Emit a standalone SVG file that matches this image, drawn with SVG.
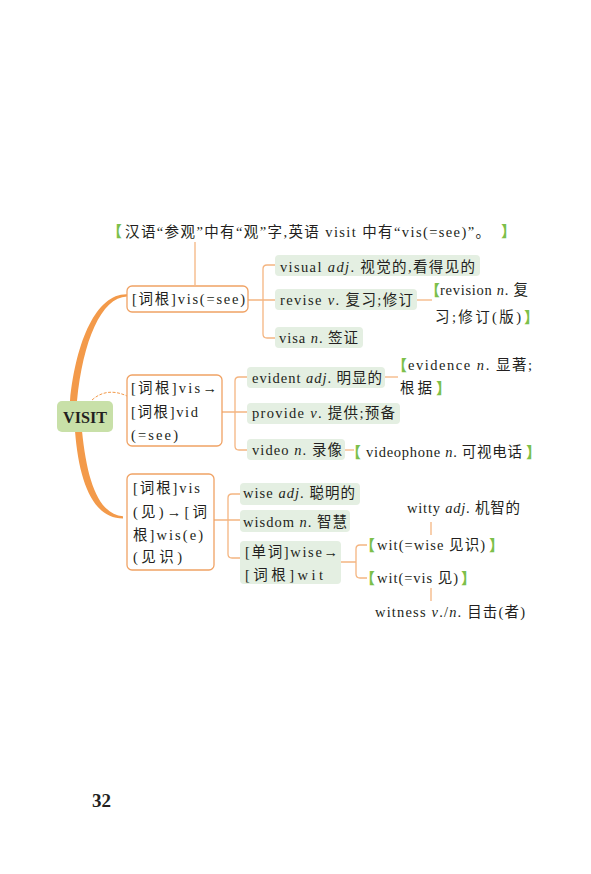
<svg xmlns="http://www.w3.org/2000/svg" width="591" height="874" viewBox="0 0 591 874">
<style>
.t{font-family:"Liberation Serif","Noto Sans CJK SC",serif;font-size:14.5px;fill:#231f20}
.i{font-style:italic}
.g{font-family:"Noto Sans CJK SC",sans-serif;font-size:15px;font-weight:900;fill:#7cbf4a}
.box{fill:#fff;stroke:#f0a264;stroke-width:1.3}
.gb{fill:#e4efe2}
.ln{fill:none;stroke:#f4b581;stroke-width:1.3}
</style>
<rect width="591" height="874" fill="#fff"/>
<g id="connectors">
<path class="ln" d="M195,242 V285"/>
<path class="ln" d="M248,300 H275 M275,265 H267 Q263,265 263,269 V334 Q263,338 267,338 H275"/>
<path class="ln" d="M417,300 H432"/>
<path class="ln" d="M222,412 H247 M247,377 H239 Q235,377 235,381 V446 Q235,450 239,450 H247"/>
<path class="ln" d="M385,377 H398"/>
<path class="ln" d="M345,450 H354"/>
<path class="ln" d="M214,520 H240 M240,494 H232 Q228,494 228,498 V554 Q228,558 232,558 H240"/>
<path class="ln" d="M341,562 H356 M367,545 H360 Q356,545 356,549 V574 Q356,578 360,578 H367"/>
<path class="ln" d="M431,522 V535"/>
<path class="ln" d="M431,588 V601"/>
<path d="M70,401 C76,340 97,293.5 127,294.3 L127,296.5 C101,297.5 83,341 77,401 Z" fill="#f39a4a"/>
<path d="M92,400 C102,391 114,390 127,396" fill="none" stroke="#f39a4a" stroke-width="1" stroke-dasharray="3,1.5"/>
<path d="M75,431 C79,482 93,518.5 123,518.5 L123,516.3 C98,514 87,480 82,431 Z" fill="#f39a4a"/>
</g>
<g id="note">
<text class="g" x="107" y="237">【</text>
<text class="t" x="125" y="237" textLength="365" lengthAdjust="spacing">汉语“参观”中有“观”字,英语 visit 中有“vis(=see)”。</text>
<text class="g" x="501" y="237">】</text>
</g>
<g id="visit">
<rect x="57" y="401" width="56" height="31" rx="5" fill="#c8e0a8"/>
<text x="63" y="423" textLength="44" lengthAdjust="spacingAndGlyphs" style="font-family:'Liberation Serif',serif;font-weight:bold;font-size:17px;fill:#231f20">VISIT</text>
</g>
<g id="root1">
<rect class="box" x="127" y="286" width="121" height="26" rx="5"/>
<text class="t" x="132" y="304" textLength="113" lengthAdjust="spacing">[词根]vis(=see)</text>
</g>
<g id="visual">
<rect class="gb" x="275" y="255" width="205" height="21" rx="4"/>
<text class="t" x="280" y="272" textLength="195" lengthAdjust="spacing">visual <tspan class="i">adj</tspan>. 视觉的,看得见的</text>
</g>
<g id="revise">
<rect class="gb" x="275" y="289" width="142" height="21" rx="4"/>
<text class="t" x="280" y="305" textLength="133" lengthAdjust="spacing">revise <tspan class="i">v</tspan>. 复习;修订</text>
</g>
<g id="revision">
<text class="g" x="425" y="296">【</text>
<text class="t" x="440" y="295" textLength="88" lengthAdjust="spacing">revision <tspan class="i">n</tspan>. 复</text>
<text class="t" x="435" y="322" textLength="86" lengthAdjust="spacing">习;修订(版)</text>
<text class="g" x="524" y="323">】</text>
</g>
<g id="visa">
<rect class="gb" x="275" y="327" width="88" height="21" rx="4"/>
<text class="t" x="279" y="343" textLength="79" lengthAdjust="spacing">visa <tspan class="i">n</tspan>. 签证</text>
</g>
<g id="root2">
<rect class="box" x="127" y="375" width="95" height="71" rx="5"/>
<text class="t" x="131" y="393" textLength="86" lengthAdjust="spacing">[词根]vis→</text>
<text class="t" x="131" y="417" textLength="67" lengthAdjust="spacing">[词根]vid</text>
<text class="t" x="131" y="440" textLength="47" lengthAdjust="spacing">(=see)</text>
</g>
<g id="evident">
<rect class="gb" x="247" y="367" width="138" height="21" rx="4"/>
<text class="t" x="252" y="383" textLength="130" lengthAdjust="spacing">evident <tspan class="i">adj</tspan>. 明显的</text>
</g>
<g id="evidence">
<text class="g" x="392" y="371">【</text>
<text class="t" x="408" y="370" textLength="124" lengthAdjust="spacing">evidence <tspan class="i">n</tspan>. 显著;</text>
<text class="t" x="400" y="393" textLength="32" lengthAdjust="spacing">根据</text>
<text class="g" x="436" y="394">】</text>
</g>
<g id="provide">
<rect class="gb" x="247" y="403" width="153" height="21" rx="4"/>
<text class="t" x="252" y="418" textLength="143" lengthAdjust="spacing">provide <tspan class="i">v</tspan>. 提供;预备</text>
</g>
<g id="video">
<rect class="gb" x="247" y="439" width="98" height="21" rx="4"/>
<text class="t" x="252" y="455" textLength="90" lengthAdjust="spacing">video <tspan class="i">n</tspan>. 录像</text>
</g>
<g id="videophone">
<text class="g" x="346" y="458">【</text>
<text class="t" x="366" y="457" textLength="156" lengthAdjust="spacing">videophone <tspan class="i">n</tspan>. 可视电话</text>
<text class="g" x="526" y="458">】</text>
</g>
<g id="root3">
<rect class="box" x="127" y="474" width="87" height="96" rx="5"/>
<text class="t" x="133" y="493" textLength="67" lengthAdjust="spacing">[词根]vis</text>
<text class="t" x="133" y="517" textLength="74" lengthAdjust="spacing">(见)→[词</text>
<text class="t" x="133" y="540" textLength="70" lengthAdjust="spacing">根]wis(e)</text>
<text class="t" x="133" y="562" textLength="49" lengthAdjust="spacing">(见识)</text>
</g>
<g id="wise">
<rect class="gb" x="240" y="483" width="120" height="22" rx="4"/>
<text class="t" x="243" y="498" textLength="112" lengthAdjust="spacing">wise <tspan class="i">adj</tspan>. 聪明的</text>
</g>
<g id="wisdom">
<rect class="gb" x="240" y="510" width="110" height="22" rx="4"/>
<text class="t" x="243" y="527" textLength="104" lengthAdjust="spacing">wisdom <tspan class="i">n</tspan>. 智慧</text>
</g>
<g id="wisewit">
<rect class="gb" x="240" y="541" width="101" height="43" rx="4"/>
<text class="t" x="245" y="557" textLength="93" lengthAdjust="spacing">[单词]wise→</text>
<text class="t" x="245" y="580" textLength="78" lengthAdjust="spacing">[词根]wit</text>
</g>
<g id="witty">
<text class="t" x="407" y="513" textLength="113" lengthAdjust="spacing">witty <tspan class="i">adj</tspan>. 机智的</text>
</g>
<g id="wit1">
<text class="g" x="360" y="551">【</text>
<text class="t" x="377" y="550" textLength="108" lengthAdjust="spacing">wit(=wise 见识)</text>
<text class="g" x="489" y="551">】</text>
</g>
<g id="wit2">
<text class="g" x="360" y="584">【</text>
<text class="t" x="377" y="583" textLength="81" lengthAdjust="spacing">wit(=vis 见)</text>
<text class="g" x="461" y="584">】</text>
</g>
<g id="witness">
<text class="t" x="375" y="617" textLength="150" lengthAdjust="spacing">witness <tspan class="i">v</tspan>./<tspan class="i">n</tspan>. 目击(者)</text>
</g>
<text x="92" y="807" style="font-family:'Liberation Serif',serif;font-weight:bold;font-size:19px;fill:#231f20">32</text>
</svg>
